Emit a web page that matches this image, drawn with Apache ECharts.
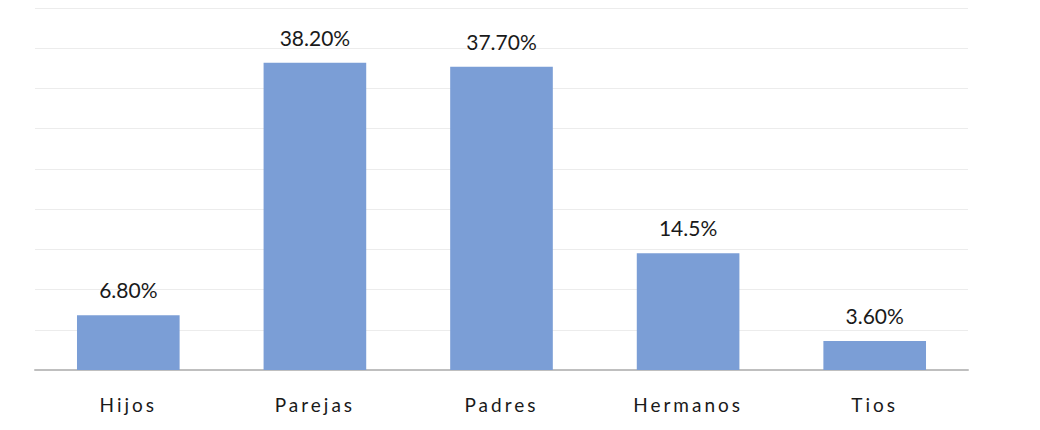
<!DOCTYPE html>
<html>
<head>
<meta charset="utf-8">
<script src="https://cdn.jsdelivr.net/npm/echarts@6/dist/echarts.min.js"></script>
<style>
  html, body { margin: 0; padding: 0; background: #fff; }
  #chart { width: 1040px; height: 430px; }
  /* etiquetas de categoria espaciadas (solo las de 19px) */
  #chart text[style*="19px"] { letter-spacing: 3px; }
</style>
</head>
<body>
<div id="chart"></div>
<script>
// datos
const categories = ['Hijos', 'Parejas', 'Padres', 'Hermanos', 'Tios'];
const values = [6.8, 38.2, 37.7, 14.5, 3.6];
const labels = ['6.80%', '38.20%', '37.70%', '14.5%', '3.60%'];

const chart = echarts.init(document.getElementById('chart'), null, { renderer: 'svg' });

const option = {
  animation: false,
  grid: { left: 35, right: 72, top: 8, bottom: 60 },
  xAxis: {
    type: 'category',
    data: categories,
    axisTick: { show: false },
    axisLine: { lineStyle: { color: '#bfbfbf', width: 2 } },
    axisLabel: {
      margin: 25,
      fontSize: 19,
      color: '#1a1a1a',
      fontFamily: 'Lato, "Open Sans", sans-serif'
    }
  },
  yAxis: {
    type: 'value',
    min: 0,
    max: 45,
    interval: 5,
    axisLabel: { show: false },
    axisLine: { show: false },
    axisTick: { show: false },
    splitLine: { lineStyle: { color: '#ececec', width: 1 } }
  },
  series: [{
    type: 'bar',
    data: values,
    barWidth: '55%',
    itemStyle: { color: '#7b9ed6' },
    label: {
      show: true,
      position: 'top',
      distance: 15,
      fontSize: 21,
      color: '#1a1a1a',
      fontFamily: 'Lato, "Open Sans", sans-serif',
      formatter: p => labels[p.dataIndex]
    }
  }]
};

chart.setOption(option);
</script>
</body>
</html>
